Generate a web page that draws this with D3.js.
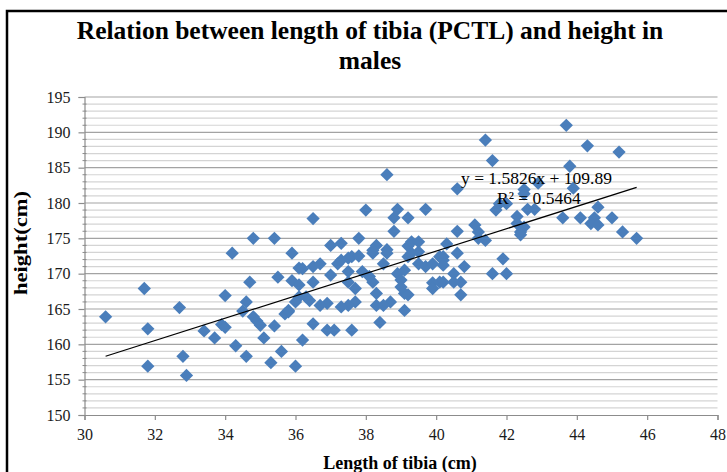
<!DOCTYPE html>
<html>
<head>
<meta charset="utf-8">
<script src="https://cdn.jsdelivr.net/npm/d3@7"></script>
<style>
  html, body { margin: 0; padding: 0; background: #fff; }
  svg { display: block; }
  text { font-family: "Liberation Serif", "Times New Roman", serif; }
</style>
</head>
<body>
<div id="chart"></div>
<script>
// ----------------------------------------
// DATA
// ----------------------------------------
const tibiaLength = [
    30.6, 31.7, 31.8, 31.8, 32.7, 32.8, 32.9, 33.4, 33.7, 33.9, 34.0, 34.0, 34.2, 34.3, 34.5, 34.6,
    34.7, 34.6, 34.8, 34.9, 35.0, 35.1, 35.3, 35.4, 35.5, 35.6, 35.7, 35.8, 35.9, 35.9, 36.0, 34.8,
    35.4, 36.1, 36.2, 36.5, 36.7, 36.5, 36.1, 37.0, 37.2, 37.3, 37.5, 37.6, 37.8, 37.5, 37.5, 37.7,
    37.9, 38.1, 38.2, 38.3, 38.2, 38.6, 38.5, 38.9, 39.0, 39.2, 39.1, 39.1, 38.7, 38.5, 38.3, 38.4,
    37.7, 37.5, 37.3, 36.9, 36.7, 36.4, 36.3, 36.1, 36.0, 35.8, 36.5, 36.9, 37.1, 37.6, 36.2, 38.6,
    38.0, 36.5, 38.9, 38.8, 39.2, 39.7, 38.8, 37.8, 37.0, 37.3, 38.3, 38.2, 38.6, 39.2, 39.3, 39.5,
    39.5, 40.3, 40.6, 40.6, 41.1, 41.2, 41.4, 40.6, 40.1, 40.2, 40.8, 40.5, 40.7, 40.5, 40.2, 40.1,
    39.9, 39.9, 40.7, 39.2, 39.5, 39.7, 39.9, 40.2, 40.2, 39.3, 39.1, 39.0, 43.7, 44.3, 45.2, 41.4,
    41.6, 43.8, 43.9, 42.5, 42.5, 42.9, 41.7, 41.8, 42.0, 42.6, 42.8, 43.6, 44.1, 44.6, 44.5, 44.4,
    44.6, 45.0, 45.3, 45.7, 42.3, 42.3, 42.5, 42.4, 42.4, 41.2, 41.9, 41.6, 42.0
];

const height = [
    163.9, 167.9, 162.2, 156.9, 165.2, 158.3, 155.6, 161.9, 160.9, 162.8, 162.4, 166.9, 172.9, 159.8, 164.7, 166.0,
    168.8, 158.3, 163.9, 163.3, 162.7, 160.9, 157.4, 162.6, 169.5, 159.0, 164.3, 164.6, 169.0, 172.9, 156.9, 175.0,
    175.0, 170.8, 170.7, 171.0, 171.4, 168.8, 168.4, 169.8, 171.4, 171.9, 172.2, 172.4, 172.5, 170.3, 168.8, 167.9,
    170.3, 169.6, 168.8, 167.2, 172.9, 172.9, 171.4, 170.0, 169.1, 172.4, 167.2, 164.8, 166.0, 165.5, 165.5, 163.1,
    166.0, 165.5, 165.3, 165.8, 165.5, 166.2, 166.7, 166.7, 166.0, 164.8, 162.9, 162.0, 162.0, 162.0, 160.6, 184.0,
    179.0, 177.8, 179.1, 177.9, 177.9, 179.1, 176.0, 175.0, 174.0, 174.3, 174.0, 173.3, 173.4, 173.9, 174.5, 174.5,
    173.1, 174.2, 172.9, 176.0, 176.9, 175.0, 174.7, 182.0, 172.4, 172.4, 171.0, 170.0, 168.8, 168.8, 168.8, 168.8,
    168.7, 167.9, 167.0, 167.0, 171.4, 171.0, 171.4, 171.9, 171.2, 172.9, 170.5, 168.1, 191.0, 188.1, 187.2, 188.9,
    186.0, 185.2, 182.1, 181.9, 181.3, 182.8, 179.0, 179.9, 179.9, 179.1, 179.1, 177.9, 177.9, 179.4, 177.9, 177.1,
    176.9, 177.9, 175.9, 175.0, 178.1, 177.1, 176.6, 175.9, 175.5, 175.9, 172.1, 170.0, 170.0
];

const xTickValues = [30, 32, 34, 36, 38, 40, 42, 44, 46, 48];
const yTickValues = [150, 155, 160, 165, 170, 175, 180, 185, 190, 195];

// linear trendline as printed on the chart
const trendSlope = 1.5826;
const trendIntercept = 109.89;
const trendLabel = "y = 1.5826x + 109.89";
const rSquaredLabel = "R² = 0.5464";

const titleLines = ["Relation between length of tibia (PCTL) and height in", "males"];
const xTitle = "Length of tibia (cm)";
const yTitle = "height(cm)";

// ----------------------------------------
// SETUP
// ----------------------------------------
const W = 727, H = 472;
const plot = { left: 84.5, right: 717.5, top: 97, bottom: 415 };
const points = tibiaLength.map((x, i) => ({ x, y: height[i] }));

const svg = d3.select("#chart")
    .append("svg")
    .attr("width", W)
    .attr("height", H);

const x = d3.scaleLinear().domain([30, 48]).range([plot.left, plot.right]);
const y = d3.scaleLinear().domain([150, 195]).range([plot.bottom, plot.top]);

// chart frame (cut off on the right and bottom in the original)
svg.append("rect")
    .attr("x", 7).attr("y", 11)
    .attr("width", 800).attr("height", 500)
    .attr("fill", "none")
    .attr("stroke", "#000")
    .attr("stroke-width", 2.5);

// ----------------------------------------
// GRIDLINES
// ----------------------------------------
const minorValues = y.ticks(45).filter(v => v % 5 !== 0);

svg.append("g")
    .selectAll("line")
    .data(minorValues)
    .join("line")
    .attr("x1", plot.left).attr("x2", plot.right)
    .attr("y1", d => y(d)).attr("y2", d => y(d))
    .attr("stroke", "#d4d4d4")
    .attr("stroke-width", 1.2);

svg.append("g")
    .selectAll("line")
    .data(yTickValues.filter(v => v !== 150))
    .join("line")
    .attr("x1", plot.left).attr("x2", plot.right)
    .attr("y1", d => y(d)).attr("y2", d => y(d))
    .attr("stroke", "#a3a3a3")
    .attr("stroke-width", 1.2);

// ----------------------------------------
// AXES
// ----------------------------------------
const yAxis = svg.append("g").attr("transform", `translate(${plot.left},0)`)
    .call(d3.axisLeft(y).tickValues(yTickValues).tickSize(6).tickPadding(8).tickFormat(d3.format("d")));

yAxis.append("g")
    .selectAll("line")
    .data(minorValues)
    .join("line")
    .attr("x1", -2).attr("x2", 2)
    .attr("y1", d => y(d)).attr("y2", d => y(d))
    .attr("stroke", "#8c8c8c");

const xAxis = svg.append("g").attr("transform", `translate(0,${plot.bottom})`)
    .call(d3.axisBottom(x).tickValues(xTickValues).tickSize(5).tickPadding(9).tickFormat(d3.format("d")));

[xAxis, yAxis].forEach(a => {
    a.select(".domain").attr("stroke", "#8c8c8c").attr("stroke-width", 1.2);
    a.selectAll(".tick line").attr("stroke", "#8c8c8c").attr("stroke-width", 1.2);
    a.selectAll(".tick text")
        .attr("font-family", "Liberation Serif, serif")
        .attr("font-size", 16)
        .attr("fill", "#1a1a1a");
});

// ----------------------------------------
// POINTS
// ----------------------------------------
const diamond = d3.symbol().type(d3.symbolSquare).size(88);

svg.append("g")
    .selectAll("path")
    .data(points)
    .join("path")
    .attr("d", diamond)
    .attr("transform", d => `translate(${x(d.x)},${y(d.y)}) rotate(45)`)
    .attr("fill", "#4a7ebb");

// ----------------------------------------
// TRENDLINE
// ----------------------------------------
const [xMin, xMax] = d3.extent(points, d => d.x);
const trend = [xMin, xMax].map(v => ({ x: v, y: trendSlope * v + trendIntercept }));

svg.append("path")
    .datum(trend)
    .attr("d", d3.line().x(d => x(d.x)).y(d => y(d.y)))
    .attr("stroke", "#000")
    .attr("stroke-width", 1.2)
    .attr("fill", "none");

svg.append("text")
    .attr("x", 461).attr("y", 184)
    .attr("font-size", 17.5)
    .attr("fill", "#000")
    .text(trendLabel);

svg.append("text")
    .attr("x", 497).attr("y", 204)
    .attr("font-size", 17.5)
    .attr("fill", "#000")
    .text(rSquaredLabel);

// ----------------------------------------
// TITLES
// ----------------------------------------
svg.append("text")
    .attr("text-anchor", "middle")
    .attr("font-size", 25.5)
    .attr("font-weight", "bold")
    .selectAll("tspan")
    .data(titleLines)
    .join("tspan")
    .attr("x", 370)
    .attr("y", (d, i) => 39 + i * 30)
    .text(d => d);

svg.append("text")
    .attr("x", 400).attr("y", 469)
    .attr("text-anchor", "middle")
    .attr("font-size", 18)
    .attr("font-weight", "bold")
    .text(xTitle);

svg.append("text")
    .attr("transform", "translate(27,243) rotate(-90)")
    .attr("text-anchor", "middle")
    .attr("font-size", 19)
    .attr("font-weight", "bold")
    .attr("textLength", 104)
    .attr("lengthAdjust", "spacingAndGlyphs")
    .text(yTitle);
</script>
</body>
</html>
